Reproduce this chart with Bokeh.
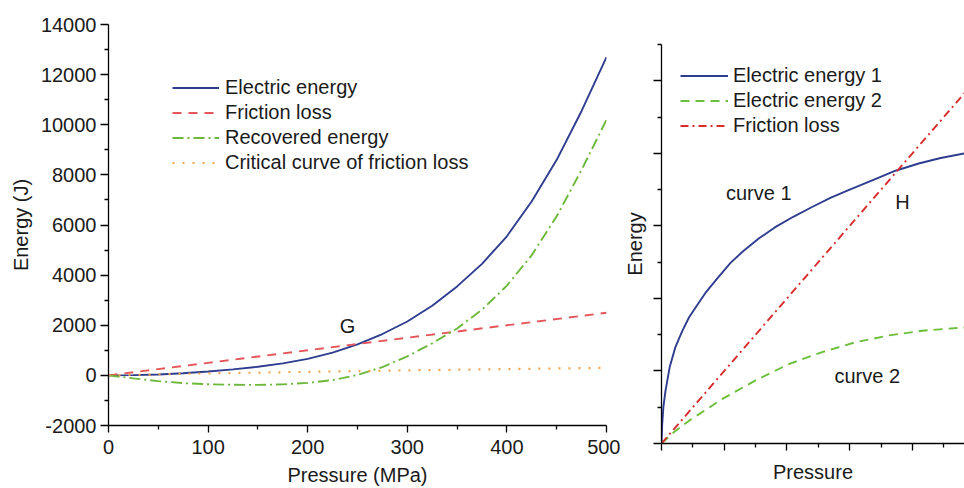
from bokeh.plotting import figure
from bokeh.layouts import row
from bokeh.models import FixedTicker, Legend, LegendItem, Label, Range1d
from bokeh.embed import file_html
from bokeh.resources import INLINE

# ---------------- data: left panel ----------------
pressure = [0, 25, 50, 75, 100, 125, 150, 175, 200, 225, 250, 275, 300, 325,
            350, 375, 400, 425, 450, 475, 500]
electric_energy = [0, 8, 35, 85, 155, 240, 345, 480, 660, 910, 1240, 1650, 2150,
                   2780, 3550, 4450, 5550, 6950, 8600, 10550, 12700]
recovered_energy = [0, -120, -230, -310, -355, -375, -380, -360, -300, -190, 20,
                    330, 760, 1280, 1870, 2620, 3580, 4800, 6350, 8200, 10200]
friction_x = [0, 100, 200, 300, 400, 500]
friction_loss = [0, 500, 1000, 1500, 2000, 2500]
critical_x = [0, 100, 200, 300, 400, 500]
critical_loss = [0, 80, 140, 200, 250, 300]

left_legend = ["Electric energy", "Friction loss", "Recovered energy",
               "Critical curve of friction loss"]
x_ticks = [0, 100, 200, 300, 400, 500]
x_minor = [50, 150, 250, 350, 450]
y_ticks = [-2000, 0, 2000, 4000, 6000, 8000, 10000, 12000, 14000]
y_minor = [-1000, 1000, 3000, 5000, 7000, 9000, 11000, 13000]
y_tick_labels = ["-2000", "0", "2000", "4000", "6000", "8000", "10000",
                 "12000", "14000"]

# ---------------- data: right panel ----------------
e1_x = [0, 0.01, 0.03, 0.064, 0.13, 0.22, 0.33, 0.44, 0.57, 0.70, 0.89, 1.1, 1.3,
        1.55, 1.8, 2.1, 2.4, 2.7, 3.0, 3.35, 3.73, 4.1, 4.45, 4.83]
e1_y = [0, 0.5, 1.0, 1.46, 2.1, 2.65, 3.1, 3.48, 3.82, 4.15, 4.55, 4.98, 5.3,
        5.65, 5.95, 6.25, 6.52, 6.78, 7.0, 7.25, 7.52, 7.72, 7.87, 8.0]
e2_x = [0, 0.21, 0.44, 0.97, 1.50, 2.03, 2.56, 3.09, 3.63, 4.16, 4.83]
e2_y = [0, 0.33, 0.63, 1.23, 1.74, 2.19, 2.52, 2.79, 2.98, 3.11, 3.20]
fr_x = [0, 5]
fr_y = [0, 10.0]
right_legend = ["Electric energy 1", "Electric energy 2", "Friction loss"]
rx_ticks = [0, 1, 2, 3, 4]
rx_minor = [0.5, 1.5, 2.5, 3.5, 4.5]
ry_ticks = [0, 2, 4, 6, 8, 10]
ry_minor = [1, 3, 5, 7, 9, 11]

FONT = "Liberation Sans"
FS = "20px"
BLUE = "#2E3D8F"
RED = "#E5565A"
GREEN = "#6CB83A"
ORANGE = "#F2A550"
RED2 = "#D92B2B"
GREEN2 = "#6BBF3A"


def style(p):
    p.xgrid.visible = False
    p.ygrid.visible = False
    p.outline_line_color = None
    p.background_fill_color = "white"
    p.border_fill_color = "white"
    for ax in (p.xaxis[0], p.yaxis[0]):
        ax.axis_line_color = "black"
        ax.axis_line_width = 1.3
        ax.major_tick_line_color = "black"
        ax.minor_tick_line_color = "black"
        ax.major_tick_line_width = 1.3
        ax.minor_tick_line_width = 1.3
        ax.major_tick_in = 0
        ax.minor_tick_in = 0
        ax.major_label_text_font = FONT
        ax.major_label_text_font_size = FS
        ax.major_label_text_color = "#1a1a1a"
        ax.axis_label_text_font = FONT
        ax.axis_label_text_font_size = FS
        ax.axis_label_text_font_style = "normal"
        ax.axis_label_text_color = "#1a1a1a"


# ---------------- left figure ----------------
p1 = figure(width=620, height=488, x_range=Range1d(0, 500),
            y_range=Range1d(-2000, 14000), output_backend="svg",
            toolbar_location=None, min_border_left=108, min_border_right=14,
            min_border_top=24, min_border_bottom=63, frame_align=False)
style(p1)
p1.xaxis.ticker = FixedTicker(ticks=x_ticks, minor_ticks=x_minor)
p1.yaxis.ticker = FixedTicker(ticks=y_ticks, minor_ticks=y_minor)
p1.yaxis.major_label_overrides = dict(zip(y_ticks, y_tick_labels))
p1.xaxis.major_tick_out = 7
p1.xaxis.minor_tick_out = 4
p1.yaxis.major_tick_out = 8
p1.yaxis.minor_tick_out = 4
p1.xaxis.major_label_standoff = 7
p1.yaxis.major_label_standoff = 4
p1.xaxis.axis_label = "Pressure (MPa)"
p1.yaxis.axis_label = "Energy (J)"
p1.xaxis.axis_label_standoff = 7
p1.yaxis.axis_label_standoff = 6

r_e = p1.line(pressure, electric_energy, line_color=BLUE, line_width=1.9)
r_f = p1.line(friction_x, friction_loss, line_color=RED, line_width=1.9,
              line_dash="9 7")
r_r = p1.line(pressure, recovered_energy, line_color=GREEN, line_width=1.9,
              line_dash="11 4 2 4")
r_c = p1.line(critical_x, critical_loss, line_color=ORANGE, line_width=2.2,
              line_dash="2 8")

leg1 = Legend(items=[LegendItem(label=left_legend[0], renderers=[r_e]),
                     LegendItem(label=left_legend[1], renderers=[r_f]),
                     LegendItem(label=left_legend[2], renderers=[r_r]),
                     LegendItem(label=left_legend[3], renderers=[r_c])],
              location=(64, 250), glyph_width=47, glyph_height=25,
              label_height=25, label_standoff=6, spacing=0, padding=0,
              margin=0, border_line_color=None, background_fill_alpha=0,
              label_text_font=FONT, label_text_font_size=FS,
              label_text_color="#1a1a1a")
p1.add_layout(leg1)
p1.add_layout(Label(x=240, y=1990, text="G", text_font=FONT, text_font_size=FS,
                    text_align="center", text_baseline="middle",
                    text_color="#1a1a1a"))

# ---------------- right figure ----------------
p2 = figure(width=344, height=488, x_range=Range1d(0, 4.83),
            y_range=Range1d(0, 11), output_backend="svg",
            toolbar_location=None, min_border_left=41, min_border_right=0,
            min_border_top=44, min_border_bottom=45, frame_align=False)
style(p2)
p2.xaxis.ticker = FixedTicker(ticks=rx_ticks, minor_ticks=rx_minor)
p2.yaxis.ticker = FixedTicker(ticks=ry_ticks, minor_ticks=ry_minor)
p2.xaxis.major_label_overrides = {t: "" for t in rx_ticks}
p2.yaxis.major_label_overrides = {t: "" for t in ry_ticks}
p2.xaxis.major_label_standoff = 0
p2.yaxis.major_label_standoff = 0
p2.xaxis.major_tick_out = 7
p2.xaxis.minor_tick_out = 4
p2.yaxis.major_tick_out = 8
p2.yaxis.minor_tick_out = 4
p2.xaxis.axis_label = "Pressure"
p2.yaxis.axis_label = "Energy"
p2.xaxis.axis_label_standoff = 10
p2.yaxis.axis_label_standoff = 8

q1 = p2.line(e1_x, e1_y, line_color=BLUE, line_width=1.9)
q2 = p2.line(e2_x, e2_y, line_color=GREEN2, line_width=1.9, line_dash="9 6")
q3 = p2.line(fr_x, fr_y, line_color=RED2, line_width=1.9, line_dash="8 4 2 4")

leg2 = Legend(items=[LegendItem(label=right_legend[0], renderers=[q1]),
                     LegendItem(label=right_legend[1], renderers=[q2]),
                     LegendItem(label=right_legend[2], renderers=[q3])],
              location=(19, 305), glyph_width=48, glyph_height=25,
              label_height=25, label_standoff=5, spacing=0, padding=0,
              margin=0, border_line_color=None, background_fill_alpha=0,
              label_text_font=FONT, label_text_font_size=FS,
              label_text_color="#1a1a1a")
p2.add_layout(leg2)
for tx, ty, tt in [(1.55, 6.91, "curve 1"), (3.84, 6.65, "H"),
                   (3.28, 1.87, "curve 2")]:
    p2.add_layout(Label(x=tx, y=ty, text=tt, text_font=FONT, text_font_size=FS,
                        text_align="center", text_baseline="middle",
                        text_color="#1a1a1a"))

layout = row(p1, p2, spacing=0)
open("out.html", "w").write(file_html(layout, INLINE))
